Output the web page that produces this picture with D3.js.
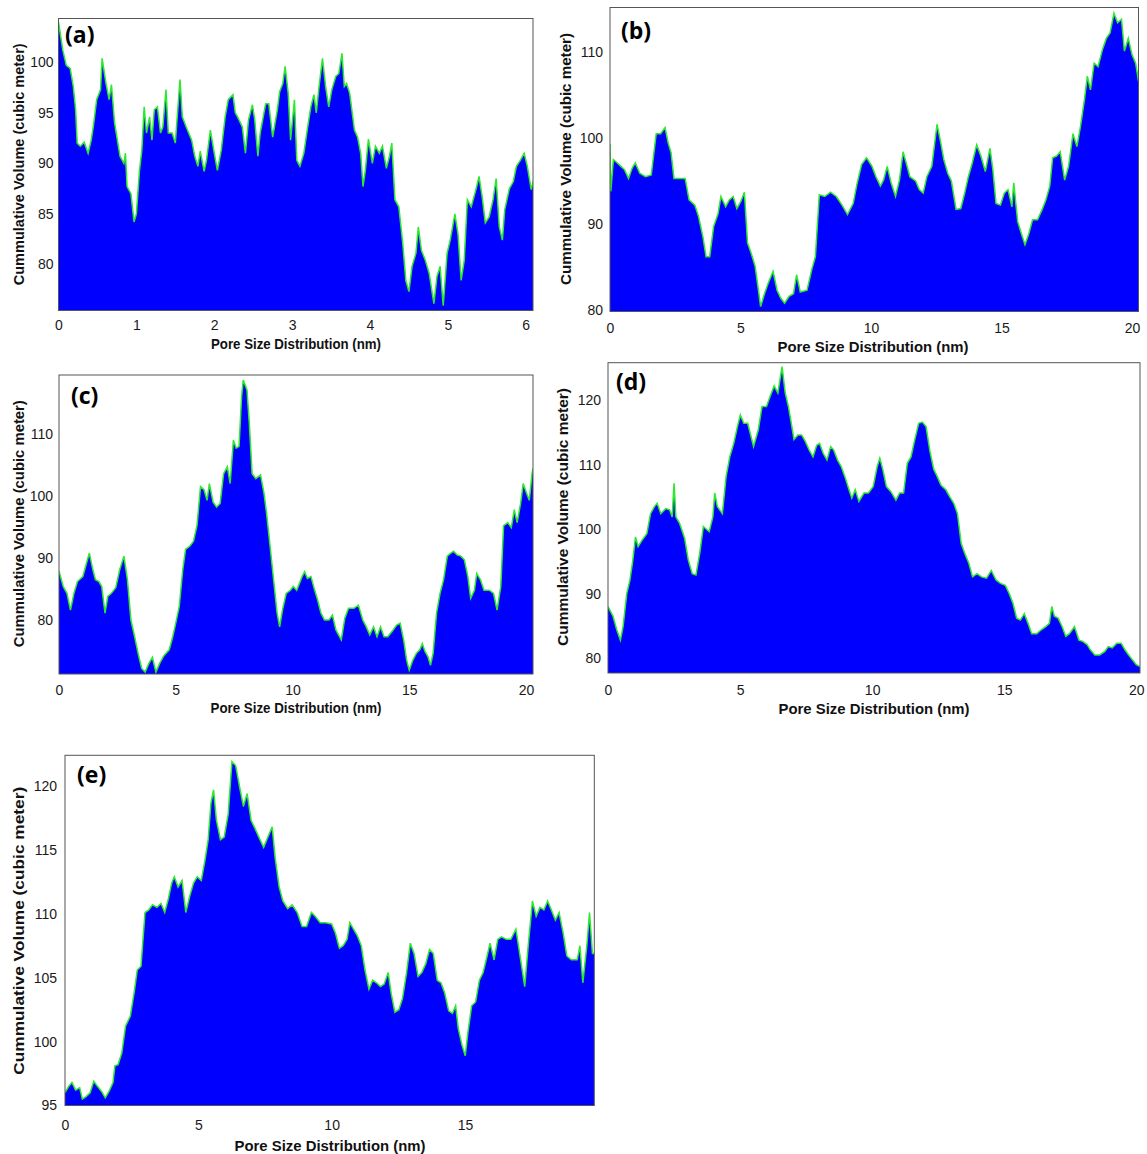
<!DOCTYPE html>
<html>
<head>
<meta charset="utf-8">
<script src="https://cdn.jsdelivr.net/npm/d3@7"></script>
<style>
  html, body { margin: 0; padding: 0; background: #ffffff; }
  svg { display: block; }
</style>
</head>
<body>
<svg id="chart" width="1147" height="1154"></svg>
<script>
// ---------------- DATA ----------------
const xTitle = "Pore Size Distribution (nm)";
const yTitle = "Cummulative Volume (cubic meter)";

const panelLabels = ["(a)", "(b)", "(c)", "(d)", "(e)"];

const xTicksA = [0, 1, 2, 3, 4, 5, 6];
const yTicksA = [80, 85, 90, 95, 100];
const xTicksB = [0, 5, 10, 15, 20];
const yTicksB = [80, 90, 100, 110];
const xTicksC = [0, 5, 10, 15, 20];
const yTicksC = [80, 90, 100, 110];
const xTicksD = [0, 5, 10, 15, 20];
const yTicksD = [80, 90, 100, 110, 120];
const xTicksE = [0, 5, 10, 15];
const yTicksE = [95, 100, 105, 110, 115, 120];

// [pore size (nm), cumulative volume]
const seriesA = [[0,104.0],[0.055,101.2],[0.1,99.7],[0.15,99.4],[0.19,97.6],[0.22,95.3],[0.24,92.0],[0.28,91.7],[0.33,92.1],[0.38,91.0],[0.42,92.3],[0.45,93.8],[0.49,96.3],[0.54,97.3],[0.56,100.4],[0.61,97.9],[0.65,96.3],[0.68,97.8],[0.72,94.0],[0.79,90.7],[0.84,90.0],[0.86,91.0],[0.88,87.7],[0.93,87.0],[0.97,84.2],[1.0,85.0],[1.04,89.3],[1.07,91.3],[1.1,95.6],[1.13,93.0],[1.17,94.6],[1.2,92.3],[1.23,95.3],[1.27,95.6],[1.31,93.0],[1.34,93.6],[1.38,97.3],[1.41,93.0],[1.46,93.0],[1.5,92.0],[1.56,98.3],[1.59,94.6],[1.64,93.6],[1.71,92.3],[1.75,90.7],[1.79,89.7],[1.82,91.2],[1.87,89.2],[1.9,90.3],[1.95,93.3],[2.0,91.0],[2.04,89.3],[2.09,91.3],[2.14,94.6],[2.18,96.3],[2.24,96.8],[2.27,95.0],[2.3,94.6],[2.36,93.6],[2.4,91.0],[2.44,94.3],[2.49,95.8],[2.52,94.3],[2.56,90.7],[2.59,93.0],[2.66,95.9],[2.7,95.9],[2.75,92.6],[2.81,95.3],[2.84,97.1],[2.88,97.9],[2.91,99.6],[2.95,96.9],[2.98,92.3],[3.03,96.3],[3.06,90.3],[3.1,89.7],[3.15,91.0],[3.2,93.6],[3.24,95.6],[3.28,96.8],[3.31,95.0],[3.35,97.9],[3.39,100.4],[3.43,97.6],[3.47,95.6],[3.51,97.3],[3.56,98.6],[3.6,98.9],[3.64,100.9],[3.67,97.6],[3.7,97.9],[3.74,96.9],[3.8,93.3],[3.84,92.6],[3.88,91.0],[3.91,87.7],[3.94,89.3],[3.98,92.4],[4.03,90.0],[4.07,91.7],[4.12,91.0],[4.16,91.7],[4.21,89.5],[4.25,90.7],[4.28,92.0],[4.32,86.4],[4.37,85.7],[4.42,82.1],[4.46,78.4],[4.5,77.3],[4.54,79.8],[4.59,81.1],[4.62,83.7],[4.66,81.4],[4.71,80.4],[4.76,79.1],[4.82,76.1],[4.86,78.8],[4.9,79.8],[4.94,75.9],[4.99,81.1],[5.03,82.4],[5.09,85.0],[5.13,83.0],[5.17,78.4],[5.21,80.4],[5.25,86.4],[5.3,85.7],[5.36,87.4],[5.4,88.7],[5.44,86.7],[5.48,84.1],[5.53,84.7],[5.58,86.4],[5.62,88.5],[5.66,83.7],[5.7,82.4],[5.73,85.4],[5.79,87.5],[5.84,88.2],[5.88,89.7],[5.93,90.3],[5.98,91.0],[6.02,89.7],[6.07,87.4],[6.1,88.3]];

const seriesB = [[0,99.3],[0.03,93.8],[0.13,97.5],[0.28,97.1],[0.42,96.7],[0.56,96.3],[0.71,95.3],[0.85,96.5],[0.97,97.1],[1.14,95.9],[1.36,95.5],[1.58,95.7],[1.77,100.5],[1.94,100.5],[2.11,101.2],[2.23,99.4],[2.34,98.3],[2.45,95.3],[2.66,95.3],[2.88,95.3],[3.03,92.8],[3.25,92.2],[3.39,90.9],[3.56,88.5],[3.68,86.2],[3.82,86.2],[3.97,89.7],[4.14,91.2],[4.25,93.2],[4.43,92.0],[4.57,92.8],[4.72,93.2],[4.86,91.8],[5.01,92.6],[5.15,93.7],[5.27,87.8],[5.41,86.6],[5.56,85.1],[5.67,82.7],[5.77,80.4],[5.92,81.9],[6.06,83.1],[6.25,84.5],[6.4,82.3],[6.54,81.4],[6.69,80.8],[6.86,81.6],[7.03,81.9],[7.15,84.1],[7.29,82.1],[7.55,82.3],[7.73,84.7],[7.87,86.2],[8.02,93.4],[8.23,93.2],[8.45,93.7],[8.67,93.2],[8.89,92.2],[9.1,91.1],[9.32,92.4],[9.46,94.6],[9.64,96.9],[9.83,97.7],[10.04,96.7],[10.19,95.5],[10.36,94.4],[10.48,95.1],[10.62,96.7],[10.77,94.8],[10.94,93.2],[11.09,95.1],[11.23,98.4],[11.35,97.1],[11.49,95.5],[11.71,95.0],[11.85,94.0],[12.0,93.6],[12.14,95.5],[12.33,96.7],[12.53,101.6],[12.65,99.8],[12.79,97.5],[12.94,95.9],[13.08,95.0],[13.26,91.7],[13.44,91.8],[13.59,93.6],[13.73,95.5],[13.88,97.1],[14.05,99.2],[14.21,97.9],[14.38,96.1],[14.56,98.8],[14.67,96.3],[14.79,92.4],[14.96,92.2],[15.11,93.6],[15.25,94.0],[15.4,92.0],[15.47,94.8],[15.62,90.3],[15.76,88.9],[15.9,87.6],[16.05,88.9],[16.19,90.5],[16.38,90.5],[16.56,91.7],[16.7,92.8],[16.85,94.4],[16.96,97.7],[17.11,97.9],[17.25,98.4],[17.42,95.1],[17.57,96.7],[17.74,100.5],[17.89,99.0],[18.03,101.4],[18.18,104.5],[18.29,107.2],[18.41,105.6],[18.55,108.7],[18.7,108.3],[18.87,110.3],[19.02,111.6],[19.16,112.2],[19.31,114.5],[19.45,113.4],[19.6,113.8],[19.71,110.1],[19.86,111.6],[20.0,109.7],[20.14,108.7],[20.25,106.6]];

const seriesC = [[0,87.9],[0.18,85.4],[0.34,84.3],[0.49,81.6],[0.64,84.3],[0.79,86.2],[1.02,87.0],[1.18,89.2],[1.3,90.8],[1.45,88.1],[1.56,86.5],[1.71,86.2],[1.83,85.4],[1.97,81.1],[2.09,83.8],[2.24,84.3],[2.43,85.2],[2.6,88.1],[2.78,90.3],[2.93,86.5],[3.08,80.0],[3.24,77.3],[3.39,74.6],[3.54,72.2],[3.69,71.6],[3.85,73.0],[4.0,74.0],[4.15,71.6],[4.31,73.0],[4.5,74.3],[4.72,75.2],[4.87,77.3],[5.0,79.5],[5.15,82.2],[5.3,88.1],[5.42,91.4],[5.6,91.9],[5.76,92.7],[5.91,95.2],[6.06,101.5],[6.21,101.0],[6.34,99.3],[6.44,102.0],[6.6,99.0],[6.75,98.2],[6.9,98.8],[7.05,103.6],[7.21,104.7],[7.33,102.0],[7.47,109.0],[7.59,107.7],[7.71,108.0],[7.82,116.0],[7.89,118.7],[8.05,117.1],[8.15,111.7],[8.27,103.6],[8.43,102.8],[8.63,103.4],[8.78,100.4],[8.89,97.2],[9.04,91.9],[9.19,86.5],[9.34,81.1],[9.45,78.9],[9.57,81.6],[9.73,84.3],[9.91,84.8],[10.03,85.4],[10.18,84.8],[10.41,87.0],[10.52,87.8],[10.64,86.7],[10.79,87.0],[10.92,85.2],[11.07,83.3],[11.22,81.1],[11.37,80.0],[11.56,80.0],[11.71,80.8],[11.86,78.4],[12.09,76.8],[12.24,80.3],[12.4,81.9],[12.63,81.9],[12.82,82.4],[13.01,80.0],[13.16,78.9],[13.31,77.6],[13.47,78.9],[13.62,77.3],[13.77,78.9],[13.92,77.3],[14.08,77.3],[14.31,78.4],[14.46,79.2],[14.61,79.5],[14.76,76.8],[14.89,73.5],[15.0,71.9],[15.15,73.5],[15.3,74.6],[15.45,75.2],[15.56,76.2],[15.68,74.9],[15.8,74.1],[15.91,72.7],[16.02,74.6],[16.17,81.1],[16.32,84.3],[16.47,86.5],[16.63,90.3],[16.78,90.8],[16.9,91.1],[17.05,90.5],[17.21,90.3],[17.36,89.7],[17.51,87.0],[17.63,83.5],[17.79,84.8],[17.89,87.5],[18.05,86.5],[18.2,84.8],[18.43,84.8],[18.61,84.3],[18.76,81.6],[18.92,85.4],[19.04,95.2],[19.22,95.7],[19.37,94.9],[19.5,97.8],[19.62,95.7],[19.77,98.8],[19.88,102.0],[20.03,100.4],[20.14,99.3],[20.26,103.6],[20.3,104.5]];

const seriesD = [[0,88.0],[0.19,86.5],[0.33,84.4],[0.47,82.8],[0.57,84.9],[0.71,90.0],[0.83,92.1],[0.94,95.2],[1.04,98.8],[1.14,97.3],[1.29,98.3],[1.47,99.3],[1.61,102.4],[1.76,103.5],[1.86,104.0],[2.0,102.4],[2.19,103.2],[2.33,103.0],[2.43,101.9],[2.5,107.1],[2.57,101.9],[2.71,100.9],[2.9,98.6],[3.04,95.2],[3.19,93.1],[3.33,92.9],[3.47,96.2],[3.61,100.4],[3.83,99.6],[3.97,101.9],[4.04,105.6],[4.14,103.5],[4.33,102.4],[4.47,108.1],[4.61,111.2],[4.76,113.3],[4.9,115.9],[5.01,117.7],[5.14,116.4],[5.29,116.4],[5.4,114.6],[5.51,112.8],[5.69,115.4],[5.83,119.0],[6.0,119.0],[6.14,120.6],[6.29,122.2],[6.43,121.1],[6.59,125.2],[6.71,121.1],[6.83,119.0],[6.94,116.4],[7.04,113.9],[7.19,114.6],[7.33,114.6],[7.47,113.6],[7.61,112.3],[7.76,111.2],[7.9,113.0],[8.01,113.3],[8.14,111.8],[8.29,110.7],[8.43,112.8],[8.54,112.3],[8.69,110.7],[8.83,109.7],[8.97,108.1],[9.11,106.3],[9.23,104.8],[9.36,106.1],[9.5,104.3],[9.69,105.6],[9.86,105.6],[10.04,106.6],[10.19,109.7],[10.29,111.0],[10.4,109.3],[10.54,106.6],[10.71,105.8],[10.9,104.5],[11.04,105.6],[11.19,105.6],[11.33,110.2],[11.47,111.2],[11.61,113.8],[11.76,116.4],[11.9,116.6],[12.04,115.9],[12.19,112.0],[12.33,109.3],[12.47,108.1],[12.61,106.8],[12.79,106.1],[12.94,105.0],[13.09,104.0],[13.23,102.4],[13.37,97.8],[13.51,96.2],[13.66,94.7],[13.8,92.6],[13.97,93.1],[14.14,92.6],[14.33,92.4],[14.51,93.6],[14.69,92.1],[14.86,91.6],[15.04,91.3],[15.19,90.0],[15.33,88.5],[15.47,86.2],[15.61,85.9],[15.76,86.9],[15.9,85.4],[16.04,83.8],[16.23,83.8],[16.4,84.4],[16.57,84.9],[16.71,85.4],[16.8,88.0],[16.9,86.5],[17.04,86.2],[17.19,84.9],[17.33,83.4],[17.47,83.8],[17.66,84.9],[17.83,82.8],[17.97,82.6],[18.14,82.1],[18.26,81.3],[18.43,80.5],[18.61,80.5],[18.8,81.0],[18.94,81.8],[19.09,81.6],[19.26,82.3],[19.43,82.3],[19.57,81.3],[19.71,80.5],[19.86,79.7],[20.0,79.0],[20.14,78.7]];

const seriesE = [[0,96.0],[0.14,96.5],[0.26,96.8],[0.4,96.2],[0.55,96.4],[0.65,95.5],[0.79,95.7],[0.94,96.0],[1.08,96.9],[1.22,96.5],[1.37,96.1],[1.51,95.6],[1.65,96.1],[1.8,96.8],[1.87,98.1],[1.99,98.2],[2.13,99.1],[2.27,101.2],[2.45,102.0],[2.59,103.8],[2.71,105.6],[2.85,105.9],[3.0,110.1],[3.14,110.3],[3.28,110.7],[3.45,110.5],[3.6,110.8],[3.74,110.1],[3.88,111.2],[4.0,112.4],[4.1,112.9],[4.24,112.1],[4.39,112.6],[4.53,110.1],[4.68,111.4],[4.82,112.4],[4.96,112.9],[5.11,112.6],[5.25,114.2],[5.37,115.8],[5.47,118.6],[5.57,119.7],[5.68,117.3],[5.83,115.8],[5.97,116.0],[6.12,117.8],[6.26,121.9],[6.4,121.6],[6.55,119.9],[6.69,118.4],[6.83,119.4],[6.98,117.3],[7.12,116.7],[7.27,116.0],[7.45,115.2],[7.63,116.1],[7.77,116.8],[7.88,114.4],[8.03,112.1],[8.17,111.0],[8.35,110.4],[8.52,110.7],[8.71,110.1],[8.89,109.0],[9.06,109.0],[9.24,110.1],[9.38,109.8],[9.57,109.3],[9.78,109.3],[10.0,109.2],[10.14,108.5],[10.29,107.3],[10.43,107.5],[10.58,108.0],[10.68,109.3],[10.82,108.8],[10.96,108.3],[11.11,107.5],[11.25,105.6],[11.4,104.1],[11.54,104.8],[11.68,104.6],[11.83,104.3],[11.97,104.5],[12.12,105.4],[12.23,103.8],[12.37,102.3],[12.52,102.5],[12.66,103.4],[12.81,105.4],[12.95,107.7],[13.09,106.9],[13.24,105.1],[13.38,105.4],[13.53,106.1],[13.67,107.2],[13.81,106.9],[13.96,104.8],[14.1,104.6],[14.24,103.8],[14.39,102.4],[14.53,102.2],[14.65,102.8],[14.75,101.0],[14.89,99.7],[15.01,98.9],[15.11,100.7],[15.25,102.8],[15.4,103.1],[15.54,104.8],[15.68,105.4],[15.83,106.7],[15.94,107.7],[16.09,106.4],[16.23,108.0],[16.37,108.2],[16.55,108.0],[16.72,108.0],[16.91,108.8],[17.05,106.9],[17.24,104.3],[17.38,107.7],[17.53,111.0],[17.67,109.8],[17.81,110.5],[17.96,110.3],[18.1,111.0],[18.24,110.3],[18.39,109.5],[18.53,110.1],[18.68,108.5],[18.82,106.7],[18.99,106.4],[19.21,106.4],[19.31,107.5],[19.42,104.6],[19.57,107.5],[19.67,110.1],[19.78,106.9],[19.86,106.9]];

// ---------------- LAYOUT ----------------
const panels = [
  { data: seriesA, label: panelLabels[0], xTicks: xTicksA, yTicks: yTicksA,
    box: { l: 58.5, r: 533, t: 18.5, b: 310.5 }, xDom: [0, 6.093], yDom: [75.43, 104.34],
    xPad: 9.5, yPad: 5, lab: [65, 43], xt: [296, 348.5, 170], yt: [18.6, 164.3, 242] },
  { data: seriesB, label: panelLabels[1], xTicks: xTicksB, yTicks: yTicksB,
    box: { l: 610, r: 1138.5, t: 7.5, b: 311.5 }, xDom: [0, 20.25], yDom: [79.83, 115.17],
    xPad: 11.5, yPad: 7, lab: [621, 39], xt: [873, 352, 191], yt: [565.5, 159, 252] },
  { data: seriesC, label: panelLabels[2], xTicks: xTicksC, yTicks: yTicksC,
    box: { l: 59, r: 533, t: 375, b: 674 }, xDom: [0, 20.3], yDom: [71.3, 119.5],
    xPad: 11, yPad: 6, lab: [71, 404], xt: [296, 713, 171], yt: [18.6, 523.7, 247] },
  { data: seriesD, label: panelLabels[3], xTicks: xTicksD, yTicks: yTicksD,
    box: { l: 608, r: 1140, t: 362.7, b: 673 }, xDom: [0, 20.14], yDom: [77.7, 125.8],
    xPad: 12, yPad: 7, lab: [616, 390], xt: [874, 714, 191], yt: [562.5, 517, 258] },
  { data: seriesE, label: panelLabels[4], xTicks: xTicksE, yTicks: yTicksE,
    box: { l: 65, r: 594.3, t: 755.3, b: 1105.5 }, xDom: [0, 19.85], yDom: [95, 122.4],
    xPad: 15, yPad: 8, lab: [77, 783], xt: [330, 1151, 191], yt: [19, 930.8, 288] }
];

const svg = d3.select("#chart");

panels.forEach((p, i) => {
  const { l, r, t, b } = p.box;
  const x = d3.scaleLinear().domain(p.xDom).range([l, r]);
  const y = d3.scaleLinear().domain(p.yDom).range([b, t]);
  const g = svg.append("g");

  const clipId = "clip" + i;
  svg.append("clipPath").attr("id", clipId)
    .append("rect").attr("x", l).attr("y", t).attr("width", r - l).attr("height", b - t);

  const plot = g.append("g").attr("clip-path", `url(#${clipId})`);

  const area = d3.area()
    .x(d => x(d[0])).y0(b).y1(d => y(d[1]))
    .curve(d3.curveLinear);
  const line = d3.line()
    .x(d => x(d[0])).y(d => y(d[1]))
    .curve(d3.curveLinear);

  plot.append("path").datum(p.data)
    .attr("d", area)
    .attr("fill", "#0000ff");
  plot.append("path").datum(p.data)
    .attr("d", line)
    .attr("fill", "none")
    .attr("stroke", "#2ee82e")
    .attr("stroke-width", 1.5)
    .attr("stroke-linejoin", "miter");

  // frame
  g.append("rect")
    .attr("x", l).attr("y", t).attr("width", r - l).attr("height", b - t)
    .attr("fill", "none").attr("stroke", "#555").attr("stroke-width", 1);

  // axes
  const xa = g.append("g").attr("transform", `translate(0,${b})`)
    .call(d3.axisBottom(x).tickValues(p.xTicks).tickFormat(d3.format("d")).tickSize(0).tickPadding(p.xPad));
  const ya = g.append("g").attr("transform", `translate(${l},0)`)
    .call(d3.axisLeft(y).tickValues(p.yTicks).tickFormat(d3.format("d")).tickSize(0).tickPadding(p.yPad));
  [xa, ya].forEach(a => {
    a.select(".domain").remove();
    a.selectAll("text")
      .attr("font-family", "'Liberation Sans', Arial, sans-serif")
      .attr("font-size", 14)
      .attr("fill", "#1a1a1a");
  });

  // axis titles
  g.append("text")
    .attr("x", p.xt[0]).attr("y", p.xt[1])
    .attr("text-anchor", "middle")
    .attr("font-family", "'Liberation Sans', Arial, sans-serif")
    .attr("font-weight", "bold").attr("font-size", 14)
    .attr("textLength", p.xt[2]).attr("lengthAdjust", "spacingAndGlyphs")
    .attr("fill", "#111")
    .text(xTitle);

  g.append("text")
    .attr("transform", `translate(${p.yt[0] + 5},${p.yt[1]}) rotate(-90)`)
    .attr("text-anchor", "middle")
    .attr("font-family", "'Liberation Sans', Arial, sans-serif")
    .attr("font-weight", "bold").attr("font-size", 14)
    .attr("textLength", p.yt[2]).attr("lengthAdjust", "spacingAndGlyphs")
    .attr("fill", "#111")
    .text(yTitle);

  // panel label
  g.append("text")
    .attr("x", p.lab[0]).attr("y", p.lab[1])
    .attr("font-family", "'Open Sans', Lato, sans-serif")
    .attr("font-weight", "bold").attr("font-size", 23)
    .attr("fill", "#000")
    .text(p.label);
});
</script>
</body>
</html>
